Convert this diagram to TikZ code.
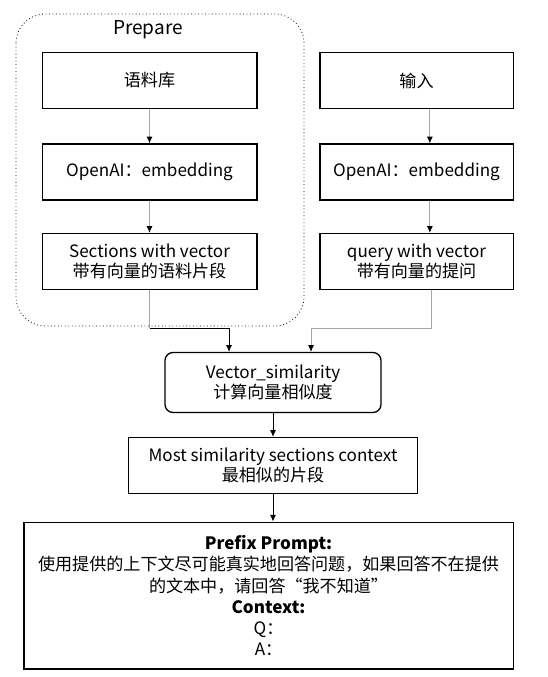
\documentclass[tikz,border=0pt]{standalone}
\usepackage{fontspec}
\setmainfont{Noto Sans CJK SC}
\usepackage{tikz}
\usetikzlibrary{arrows.meta}
\usetikzlibrary{positioning}

\tikzset{
  stepbox/.style={draw,line width=1pt,minimum height=42pt,align=center,inner sep=2pt},
  link/.style={draw=gray!70,line width=0.6pt,-{Latex[length=5pt,width=4.5pt,color=black]}},
  flow/.style={draw=black,line width=0.6pt,-{Latex[length=5pt,width=4.5pt]}}
}

\begin{document}
\begin{tikzpicture}[x=0.75pt,y=-0.75pt,every node/.style={font=\fontsize{12.8}{15}\selectfont}]
  \useasboundingbox (0,0) rectangle (547,677);
  % prepare group
  \draw[dotted,line width=0.6pt,rounded corners=22pt] (16,14) rectangle (304,326);
  \node[font=\fontsize{14.3}{16}\selectfont] (prep) at (148,30) {Prepare};
  % left column
  \node[stepbox,minimum width=161pt] (corpus) at (149.5,80.5) {语料库};
  \node[stepbox,minimum width=161pt] (embL) at (149.5,172) {OpenAI：embedding};
  \node[stepbox,minimum width=161pt] (secL) at (149.5,261.5) {Sections with vector\\带有向量的语料片段};
  % right column
  \node[stepbox,minimum width=145pt] (input) at (416.5,80.5) {输入};
  \node[stepbox,minimum width=145pt] (embR) at (416.5,172) {OpenAI：embedding};
  \node[stepbox,minimum width=145pt] (qryR) at (416.5,261.5) {query with vector\\带有向量的提问};
  % lower part
  \node[stepbox,rounded corners=6pt,minimum width=162pt,minimum height=45pt] (sim) at (273,382.5) {Vector\_similarity\\计算向量相似度};
  \node[stepbox,minimum width=217pt] (most) at (273,465.5) {Most similarity sections context\\最相似的片段};
  \node[stepbox,minimum width=367pt,minimum height=110pt,font=\fontsize{12.8}{15.8}\selectfont] (prompt) at (268.5,595.5)
    {\textbf{Prefix Prompt:}\\使用提供的上下文尽可能真实地回答问题，如果回答不在提供\\的文本中，请回答“我不知道”\\\textbf{Context:}\\Q：\\A：};
  \coordinate (jl) at (229,328);
  \coordinate (jr) at (311,328);
  \draw[link](corpus.south)--(embL.north);
  \draw[link](embL.south)--(secL.north);
  \draw[link]([xshift=10pt]input.south)--([xshift=10pt]embR.north);
  \draw[link]([xshift=10pt]embR.south)--([xshift=10pt]qryR.north);
  \draw[gray!70,line width=0.6pt](secL.south)--(secL.south |- jl);
  \draw[flow](secL.south |- jl)--(jl)--(jl |- sim.north);
  \draw[gray!70,line width=0.6pt]([xshift=11pt]qryR.south)--([xshift=11pt]qryR.south |- jr)--(jr);
  \draw[link](jr)--(jr |- sim.north);
  \draw[flow](sim.south)--(most.north);
  \draw[flow](most.south)--(most.south |- prompt.north);
\end{tikzpicture}
\end{document}
